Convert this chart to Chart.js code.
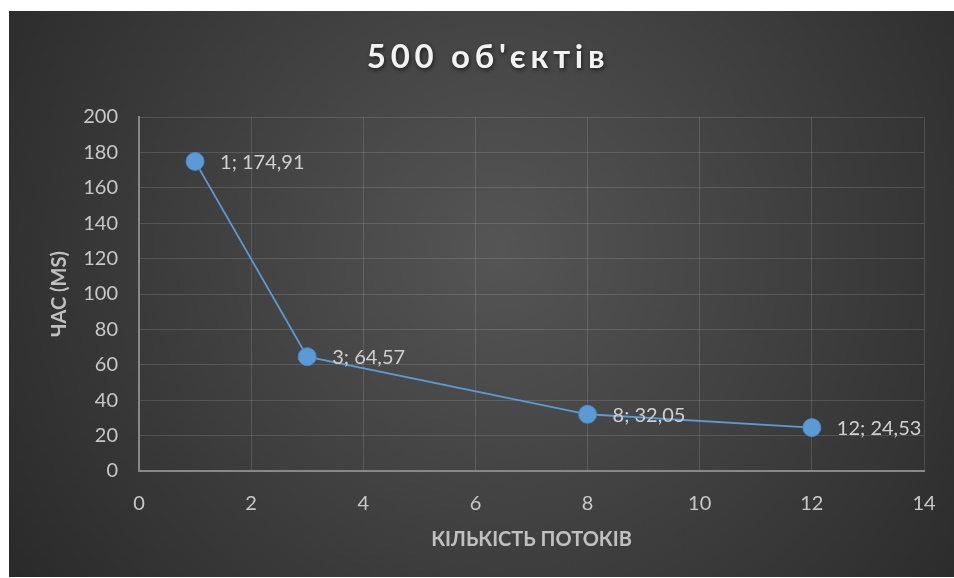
<!DOCTYPE html>
<html>
<head>
<meta charset="utf-8">
<script src="https://cdn.jsdelivr.net/npm/chart.js@4/dist/chart.umd.min.js"></script>
<style>
  html, body { margin: 0; padding: 0; background: #ffffff; }
  #wrap { position: absolute; left: 9px; top: 11px; width: 945px; height: 566px; }
  canvas { display: block; }
</style>
</head>
<body>
<div id="wrap"><canvas id="c" width="945" height="566"></canvas></div>
<script>
const chartTitle = "500 об'єктів";
const xTitle = "КІЛЬКІСТЬ ПОТОКІВ";
const yTitle = "ЧАС (MS)";
const threads = [1, 3, 8, 12];
const timesMs = [174.91, 64.57, 32.05, 24.53];
const dataLabels = ["1; 174,91", "3; 64,57", "8; 32,05", "12; 24,53"];

const FONT = "Lato, 'Open Sans', 'DejaVu Sans', sans-serif";

const bgPlugin = {
  id: 'bg',
  beforeDraw(chart) {
    const { ctx, width, height } = chart;
    ctx.save();
    const g = ctx.createRadialGradient(width * 0.52, height * 0.42, 0, width * 0.52, height * 0.42, width * 0.62);
    g.addColorStop(0, '#555555');
    g.addColorStop(1, '#2a2a2a');
    ctx.fillStyle = g;
    ctx.fillRect(0, 0, width, height);
    // title
    ctx.font = "bold 33px " + FONT;
    try { ctx.letterSpacing = '4.7px'; } catch (e) {}
    ctx.textAlign = 'center';
    ctx.textBaseline = 'middle';
    ctx.shadowColor = 'rgba(0,0,0,0.6)';
    ctx.shadowBlur = 4;
    ctx.shadowOffsetX = 1;
    ctx.shadowOffsetY = 2;
    ctx.fillStyle = '#f2f2f2';
    ctx.fillText(chartTitle, 479, 46);
    ctx.restore();
  }
};

const labelPlugin = {
  id: 'pointLabels',
  afterDatasetsDraw(chart) {
    const { ctx } = chart;
    const meta = chart.getDatasetMeta(0);
    ctx.save();
    ctx.font = "20px " + FONT;
    ctx.fillStyle = '#d0d0d0';
    ctx.textAlign = 'left';
    ctx.textBaseline = 'middle';
    meta.data.forEach((pt, i) => {
      ctx.fillText(dataLabels[i], pt.x + 25, pt.y + 1);
    });
    ctx.restore();
  }
};

new Chart(document.getElementById('c'), {
  type: 'scatter',
  data: {
    datasets: [{
      data: threads.map((x, i) => ({ x: x, y: timesMs[i] })),
      showLine: true,
      borderColor: '#5b9bd5',
      borderWidth: 1.8,
      backgroundColor: '#5b9bd5',
      pointBackgroundColor: '#5b9bd5',
      pointBorderColor: '#4a89c4',
      pointBorderWidth: 1,
      pointRadius: 9,
      tension: 0
    }]
  },
  options: {
    responsive: false,
    animation: false,
    events: [],
    layout: { padding: { left: 0, right: 30, top: 106, bottom: 0 } },
    plugins: {
      legend: { display: false },
      tooltip: { enabled: false },
      title: { display: false }
    },
    scales: {
      x: {
        type: 'linear',
        min: 0, max: 14,
        ticks: { stepSize: 2, color: '#c8c8c8', font: { size: 20, family: FONT }, padding: 21 },
        grid: { color: 'rgba(255,255,255,0.13)', lineWidth: 1, drawTicks: false },
        border: { color: '#888888', width: 2 },
        title: { display: true, text: xTitle, color: '#c0c0c0', font: { size: 20, weight: 'bold', family: FONT }, padding: { top: 4, bottom: 25 } },
        afterFit(scale) { scale.height = 106; scale.paddingLeft = 0; scale.paddingRight = 0; }
      },
      y: {
        min: 0, max: 200,
        ticks: { stepSize: 20, color: '#c8c8c8', font: { size: 20, family: FONT }, padding: 21 },
        grid: { color: 'rgba(255,255,255,0.13)', lineWidth: 1, drawTicks: false },
        border: { color: '#888888', width: 2 },
        title: { display: true, text: yTitle, color: '#c0c0c0', font: { size: 20, weight: 'bold', family: FONT }, padding: { top: 39, bottom: 4 } },
        afterFit(scale) { scale.width = 130; scale.paddingTop = 0; scale.paddingBottom = 0; }
      }
    }
  },
  plugins: [bgPlugin, labelPlugin]
});
</script>
</body>
</html>
